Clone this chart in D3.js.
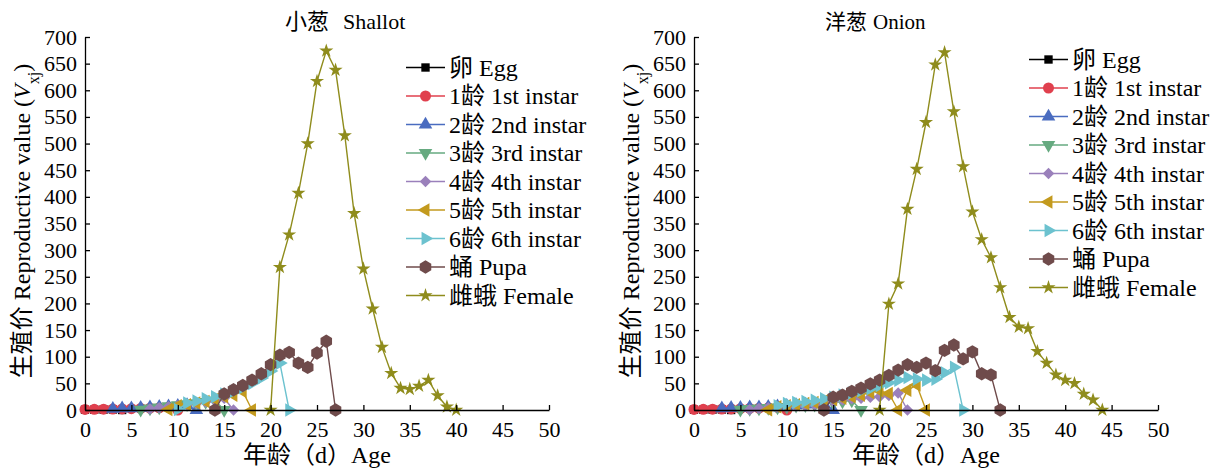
<!DOCTYPE html>
<html>
<head>
<meta charset="utf-8">
<script src="https://cdnjs.cloudflare.com/ajax/libs/d3/7.8.5/d3.min.js"></script>
<style>
  body { margin: 0; background: #fff; }
  svg text { font-family: "Liberation Serif", "Noto Sans CJK SC", serif; fill: #000; }
  .axis path, .axis line { stroke: #000; stroke-width: 1.3; }
  .axis text { font-size: 22px; }
</style>
</head>
<body>
<div class="content"></div>
<script>
    // stage names / colours (legend order)
    var stageNames = ["卵 Egg", "1龄 1st instar", "2龄 2nd instar", "3龄 3rd instar", "4龄 4th instar",
                      "5龄 5th instar", "6龄 6th instar", "蛹 Pupa", "雌蛾 Female"];
    var stageColors = ["#000000", "#e0404e", "#4a6cc0", "#66aa80", "#9a80bb",
                       "#c39a1e", "#6cc2cf", "#6f4b4b", "#8f8c1c"];
    var xTicks = [0, 5, 10, 15, 20, 25, 30, 35, 40, 45, 50];
    var yTicks = d3.range(0, 701, 50);

    // 小葱 Shallot: first age (d) of each stage, then daily values
    var shallotStart  = [0, 0, 3, 6, 7, 9, 10, 14, 20];
    var shallotEgg    = [0.5, 0.6, 0.8, 1, 0];
    var shallotL1     = [1, 1.2, 1.5, 1.8, 2, 2.5, 3, 3.5, 4, 5, 0];
    var shallotL2     = [2, 3, 3, 4, 5, 6, 7, 8, 9, 0];
    var shallotL3     = [0.5, 3, 5, 7, 9, 11, 13, 15, 18, 0];
    var shallotL4     = [2, 4, 6, 8, 10, 12, 15, 18, 22, 0];
    var shallotL5     = [1, 8, 10, 13, 16, 20, 25, 28, 35, 0];
    var shallotL6     = [1, 13, 17, 21, 25, 30, 35, 42, 50, 60, 73, 88, 0];
    var shallotPupa   = [0, 30, 38, 46, 56, 68, 85, 103, 108, 88, 80, 107, 129, 0];
    var shallotFemale = [0, 268, 329, 407, 500, 617, 674, 638, 515, 369, 265, 190, 118, 69, 41, 39, 45, 56, 27, 6, 0];

    // 洋葱 Onion
    var onionStart  = [0, 0, 3, 5, 6, 8, 9, 14, 20];
    var onionEgg    = [0.5, 0.6, 0.8, 1, 0];
    var onionL1     = [1, 1.2, 1.5, 1.8, 2, 2.5, 3, 3.5, 4, 5, 0];
    var onionL2     = [3, 4, 4, 5, 5, 6, 7, 8, 9, 10, 11, 12, 0];
    var onionL3     = [0.5, 2, 3, 4, 5, 6, 8, 9, 10, 12, 14, 16, 18, 0];
    var onionL4     = [0.5, 3, 4, 5, 6, 7, 8, 10, 13, 16, 19, 21, 22, 24, 25, 27, 32, 0];
    var onionL5     = [0.5, 6, 8, 10, 12, 14, 17, 20, 22, 25, 28, 33, 36, 31, 0, 37, 47, 0];
    var onionL6     = [8, 12, 14, 16, 18, 21, 24, 28, 32, 36, 40, 46, 51, 56, 61, 58, 56, 58, 70, 80, 0];
    var onionPupa   = [0, 24, 28, 35, 41, 49, 56, 65, 75, 85, 80, 88, 74, 112, 122, 96, 109, 68, 66, 0];
    var onionFemale = [0, 199, 237, 377, 452, 540, 648, 671, 560, 457, 372, 320, 286, 230, 174, 156, 153, 110, 88, 66, 56, 50, 30, 19, 0];

    var width = 1219, height = 470,
        plotW = 464, plotH = 373;

    var hexagon = {
      draw: function(ctx, size) {
        var r = Math.sqrt(size / (1.5 * Math.sqrt(3)));
        for (var i = 0; i < 6; i++) {
          var a = Math.PI / 3 * i + Math.PI / 6;
          if (i === 0) ctx.moveTo(r * Math.cos(a), r * Math.sin(a));
          else ctx.lineTo(r * Math.cos(a), r * Math.sin(a));
        }
        ctx.closePath();
      }
    };

    // symbol type, area, rotation for each stage
    var markers = [
      {type: d3.symbolSquare,   size: 70,  rot: 0},
      {type: d3.symbolCircle,   size: 95,  rot: 0},
      {type: d3.symbolTriangle, size: 80,  rot: 0},
      {type: d3.symbolTriangle, size: 80,  rot: 180},
      {type: d3.symbolSquare,   size: 66,  rot: 45},
      {type: d3.symbolTriangle, size: 80,  rot: -90},
      {type: d3.symbolTriangle, size: 80,  rot: 90},
      {type: hexagon,           size: 115, rot: 0},
      {type: d3.symbolStar,     size: 62,  rot: 0}
    ];

    var svg = d3.select(".content").append("svg")
        .attr("width", width)
        .attr("height", height);

    function toPoints(start, values) {
      return values.map(function(v, i) { return [start + i, v]; });
    }

    function drawPanel(opts) {
      var g = svg.append("g").attr("transform", "translate(" + opts.left + ",37)");

      var xScale = d3.scaleLinear().domain([0, 50]).range([0, plotW]);
      var yScale = d3.scaleLinear().domain([0, 700]).range([plotH, 0]);

      var line = d3.line()
          .x(function(d) { return xScale(d[0]); })
          .y(function(d) { return yScale(d[1]); });

      opts.series.forEach(function(values, k) {
        var pts = toPoints(opts.start[k], values);
        var m = markers[k];
        g.append("path")
            .datum(pts)
            .attr("fill", "none")
            .attr("stroke", stageColors[k])
            .attr("stroke-width", 1.4)
            .attr("d", line);
        g.selectAll(".m" + k)
            .data(pts)
          .enter().append("path")
            .attr("class", "m" + k)
            .attr("fill", stageColors[k])
            .attr("transform", function(d) {
              return "translate(" + xScale(d[0]) + "," + yScale(d[1]) + ") rotate(" + m.rot + ")";
            })
            .attr("d", d3.symbol().type(m.type).size(m.size));
      });

      g.append("g")
          .attr("class", "axis")
          .attr("transform", "translate(0," + plotH + ")")
          .call(d3.axisBottom(xScale).tickValues(xTicks).tickSizeInner(-5).tickSizeOuter(0).tickPadding(11));

      g.append("g")
          .attr("class", "axis")
          .call(d3.axisLeft(yScale).tickValues(yTicks).tickSizeInner(-5).tickSizeOuter(0).tickPadding(8));

      // title: CJK part, then the English name
      var t = svg.append("text")
          .attr("x", opts.titleX)
          .attr("y", 29)
          .style("font-size", opts.titleSize + "px");
      t.append("tspan").text(opts.titleCn);
      t.append("tspan").attr("x", opts.titleEnX).text(opts.titleEn);

      // x label
      svg.append("text")
          .attr("x", opts.left + plotW / 2)
          .attr("y", 463)
          .attr("text-anchor", "middle")
          .style("font-size", "24px")
          .text("年龄（d）Age");

      // y label
      var yl = svg.append("text")
          .attr("transform", "translate(" + (opts.left - 55) + ",221) rotate(-90)")
          .attr("text-anchor", "middle")
          .style("font-size", "24px");
      yl.append("tspan").text("生殖价 Reproductive value (");
      yl.append("tspan").style("font-style", "italic").text("V");
      yl.append("tspan").attr("baseline-shift", "sub").style("font-size", "16px").text("xj");
      yl.append("tspan").text(")");

      // legend
      var leg = svg.append("g");
      stageNames.forEach(function(name, k) {
        var yy = opts.legY + k * 28.5;
        var m = markers[k];
        leg.append("line")
            .attr("x1", opts.legX).attr("x2", opts.legX + 39)
            .attr("y1", yy).attr("y2", yy)
            .attr("stroke", stageColors[k]).attr("stroke-width", 1.4);
        leg.append("path")
            .attr("fill", stageColors[k])
            .attr("transform", "translate(" + (opts.legX + 19.5) + "," + yy + ") rotate(" + m.rot + ")")
            .attr("d", d3.symbol().type(m.type).size(m.size));
        leg.append("text")
            .attr("x", opts.legX + 43)
            .attr("y", yy)
            .attr("dy", "0.35em")
            .style("font-size", "24px")
            .text(name);
      });
    }

    drawPanel({
      left: 85, titleCn: "小葱", titleEn: "Shallot", titleX: 285, titleEnX: 343, titleSize: 22,
      legX: 406, legY: 67.5,
      start: shallotStart,
      series: [shallotEgg, shallotL1, shallotL2, shallotL3, shallotL4, shallotL5, shallotL6, shallotPupa, shallotFemale]
    });

    drawPanel({
      left: 694, titleCn: "洋葱", titleEn: "Onion", titleX: 825, titleEnX: 873, titleSize: 21,
      legX: 1029, legY: 59.5,
      start: onionStart,
      series: [onionEgg, onionL1, onionL2, onionL3, onionL4, onionL5, onionL6, onionPupa, onionFemale]
    });
</script>
</body>
</html>
